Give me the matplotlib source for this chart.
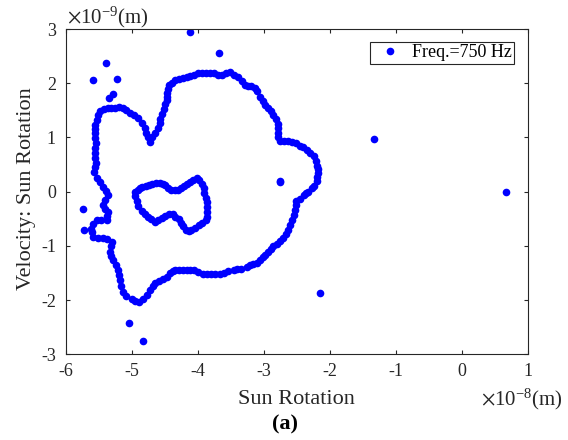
import matplotlib
matplotlib.use("Agg")
import matplotlib.pyplot as plt

plt.rcParams['font.family'] = ['Liberation Serif', 'DejaVu Serif']
plt.rcParams['mathtext.fontset'] = 'stix'
plt.rcParams['axes.unicode_minus'] = False

# Outer loop (x in 1e-8 m, y in 1e-9 m)
outer_x = [-4.89, -4.83, -4.77, -4.73, -4.68, -4.65, -4.59, -4.53, -4.47, -4.42,
           -4.38, -4.35, -4.29, -4.23, -4.17, -4.12, -4.06, -4.00, -3.92, -3.86,
           -3.80, -3.74, -3.67, -3.60, -3.54, -3.46, -3.41, -3.35, -3.26, -3.21,
           -3.17, -3.11, -3.06, -3.02, -2.99, -2.94, -2.90, -2.86, -2.81, -2.76,
           -2.71, -2.67, -2.63, -2.61, -2.58, -2.55, -2.53, -2.52, -2.51, -2.46,
           -2.40, -2.36, -2.33, -2.28, -2.24, -2.20, -2.19, -2.18, -2.18, -2.19,
           -2.21, -2.25, -2.30, -2.35, -2.41, -2.46, -2.52, -2.58, -2.64, -2.70,
           -2.76, -2.78, -2.78, -2.78, -2.78, -2.82, -2.86, -2.90, -2.94, -2.99,
           -3.02, -3.06, -3.11, -3.14, -3.20, -3.24, -3.29, -3.33, -3.39, -3.45,
           -3.51, -3.57, -3.63, -3.70, -3.76, -3.82, -3.88, -3.94, -4.00, -4.06,
           -4.12, -4.17, -4.22, -4.28, -4.35, -4.39, -4.43, -4.45, -4.47, -4.47,
           -4.47, -4.50, -4.52, -4.54, -4.57, -4.58, -4.60, -4.65, -4.69, -4.73,
           -4.76, -4.78, -4.80, -4.85, -4.90, -4.97, -5.03, -5.09, -5.14, -5.19,
           -5.25, -5.31, -5.36, -5.42, -5.48, -5.51, -5.53, -5.55, -5.56, -5.56,
           -5.55, -5.54, -5.55, -5.56, -5.55, -5.54, -5.56, -5.57, -5.53, -5.48,
           -5.43, -5.39, -5.36, -5.40, -5.44, -5.40, -5.36, -5.37, -5.38, -5.46,
           -5.53, -5.58, -5.61, -5.60, -5.58, -5.51, -5.43, -5.37, -5.30, -5.31,
           -5.33, -5.31, -5.28, -5.24, -5.21, -5.19, -5.18, -5.16, -5.13, -5.08,
           -5.00, -4.95]
outer_y = [-2.04, -1.98, -1.91, -1.81, -1.74, -1.69, -1.65, -1.61, -1.57, -1.50,
           -1.46, -1.45, -1.44, -1.44, -1.45, -1.45, -1.45, -1.48, -1.52, -1.52,
           -1.52, -1.51, -1.51, -1.49, -1.47, -1.44, -1.43, -1.42, -1.38, -1.36,
           -1.34, -1.32, -1.26, -1.20, -1.17, -1.11, -1.06, -1.01, -0.96, -0.91,
           -0.86, -0.78, -0.71, -0.61, -0.52, -0.43, -0.34, -0.25, -0.18, -0.13,
           -0.06, -0.03, 0.00, 0.06, 0.11, 0.20, 0.27, 0.34, 0.42, 0.48,
           0.57, 0.65, 0.71, 0.77, 0.82, 0.85, 0.89, 0.92, 0.93, 0.94,
           0.94, 1.01, 1.08, 1.18, 1.25, 1.34, 1.42, 1.49, 1.54, 1.60,
           1.67, 1.75, 1.85, 1.91, 1.94, 1.95, 1.97, 2.04, 2.12, 2.16,
           2.20, 2.19, 2.16, 2.16, 2.18, 2.19, 2.19, 2.19, 2.18, 2.16,
           2.14, 2.12, 2.10, 2.08, 2.06, 2.01, 1.96, 1.89, 1.82, 1.75,
           1.69, 1.62, 1.53, 1.43, 1.34, 1.26, 1.18, 1.08, 1.00, 0.92,
           1.01, 1.08, 1.17, 1.27, 1.35, 1.41, 1.45, 1.50, 1.54, 1.56,
           1.55, 1.54, 1.54, 1.52, 1.48, 1.41, 1.32, 1.23, 1.16, 1.08,
           0.99, 0.89, 0.81, 0.71, 0.62, 0.52, 0.45, 0.37, 0.25, 0.17,
           0.09, 0.02, -0.06, -0.15, -0.25, -0.31, -0.37, -0.45, -0.52, -0.52,
           -0.53, -0.60, -0.68, -0.75, -0.83, -0.85, -0.86, -0.88, -0.92, -1.01,
           -1.11, -1.19, -1.26, -1.35, -1.44, -1.54, -1.63, -1.74, -1.85, -1.92,
           -1.97, -2.01]

# Inner loop
inner_x = [-4.95, -4.95, -4.92, -4.90, -4.85, -4.80, -4.75, -4.71, -4.65, -4.60,
           -4.54, -4.49, -4.44, -4.38, -4.34, -4.29, -4.26, -4.22, -4.18, -4.14,
           -4.10, -4.04, -3.99, -3.94, -3.88, -3.86, -3.86, -3.86, -3.86, -3.88,
           -3.90, -3.91, -3.94, -3.98, -4.02, -4.07, -4.12, -4.17, -4.21, -4.26,
           -4.30, -4.35, -4.40, -4.45, -4.50, -4.53, -4.58, -4.63, -4.69, -4.74,
           -4.79, -4.84, -4.88, -4.91]
inner_y = [0.00, -0.08, -0.17, -0.26, -0.35, -0.41, -0.47, -0.51, -0.55, -0.53,
           -0.49, -0.44, -0.41, -0.42, -0.46, -0.51, -0.57, -0.63, -0.70, -0.73,
           -0.71, -0.67, -0.62, -0.58, -0.52, -0.46, -0.37, -0.28, -0.19, -0.11,
           -0.02, 0.07, 0.15, 0.22, 0.25, 0.22, 0.18, 0.15, 0.11, 0.06,
           0.03, 0.03, 0.03, 0.07, 0.12, 0.15, 0.16, 0.16, 0.15, 0.13,
           0.11, 0.09, 0.06, 0.03]

# Scattered points
stray_x = [-4.12, -3.68, -5.58, -5.39, -5.22, -5.34, -5.28, -2.75, -2.76,
           -1.34, 0.66, -2.15, -5.74, -5.72, -5.04, -4.83]
stray_y = [2.95, 2.55, 2.06, 2.38, 2.08, 1.73, 1.80, 0.20, 0.17,
           0.97, -0.01, -1.87, -0.31, -0.71, -2.42, -2.75]

all_x = outer_x + inner_x + stray_x
all_y = outer_y + inner_y + stray_y

x_ticks = [-6, -5, -4, -3, -2, -1, 0, 1]
y_ticks = [-3, -2, -1, 0, 1, 2, 3]

W, H = 568, 440
fig = plt.figure(figsize=(W / 100, H / 100), dpi=100)
L, R, T, B = 65.7, 528.3, 29.0, 354.4
ax = fig.add_axes([L / W, 1 - B / H, (R - L) / W, (B - T) / H])

ax.plot(all_x, all_y, linestyle='none', marker='o', markersize=5.5,
        markeredgewidth=0, color='#0000FF', label='Freq.=750 Hz')

ax.set_xlim(-6, 1)
ax.set_ylim(-3, 3)
ax.set_xticks(x_ticks)
ax.set_yticks(y_ticks)
ax.tick_params(direction='in', length=3, width=0.8, top=True, right=True,
               labelsize=13, colors='#262626')
ax.tick_params(axis='x', pad=6)
ax.tick_params(axis='y', pad=7)
for s in ax.spines.values():
    s.set_linewidth(0.8)
    s.set_color('#262626')

ax.set_xlabel('Sun Rotation', fontsize=16, va='baseline', color='#262626')
ax.xaxis.set_label_coords((296.7 - L) / (R - L), (B - 404) / (B - T))
ax.set_ylabel('Velocity: Sun Rotation', fontsize=16, va='center', color='#262626')
ax.yaxis.set_label_coords((26.7 - L) / (R - L), (B - 188.3) / (B - T))

leg = ax.legend(loc='upper right', bbox_to_anchor=(514.3 / W, 1 - 41.7 / H),
                bbox_transform=fig.transFigure, borderaxespad=0,
                fontsize=13, fancybox=False, framealpha=1, edgecolor='#262626',
                borderpad=0.15, handlelength=1.9, handletextpad=0.25, numpoints=1)
leg.get_frame().set_linewidth(0.8)

fig.text(66.7 / W, 1 - 23.3 / H, r'$\times\mathregular{10^{-9}}$(m)', fontsize=15,
         ha='left', va='baseline', color='#262626')
fig.text(480.7 / W, 1 - 405.7 / H, r'$\times\mathregular{10^{-8}}$(m)', fontsize=15,
         ha='left', va='baseline', color='#262626')
fig.text(285 / W, 1 - 424 / H, '(a)', fontsize=16, fontweight='bold',
         ha='center', va='center', color='black')

fig.savefig('out.png', dpi=100)
